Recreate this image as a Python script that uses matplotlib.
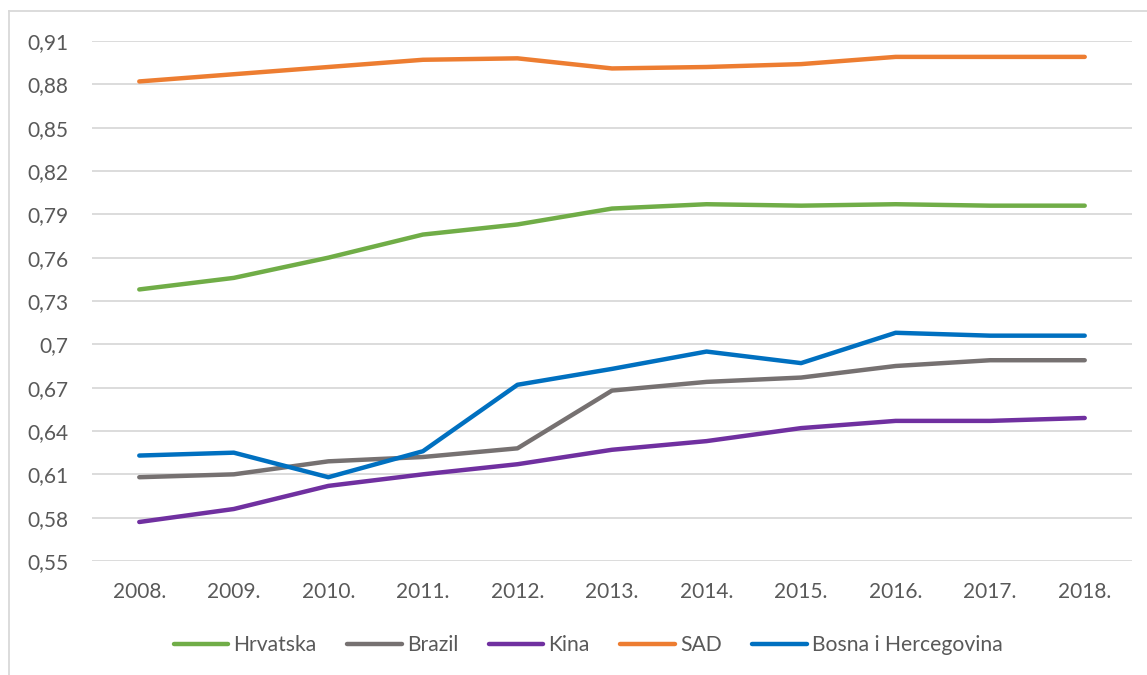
import matplotlib
matplotlib.use("Agg")
import matplotlib.pyplot as plt
from matplotlib.lines import Line2D
from matplotlib.ticker import FixedLocator, FuncFormatter

years = ["2008.", "2009.", "2010.", "2011.", "2012.", "2013.", "2014.", "2015.", "2016.", "2017.", "2018."]
hrvatska = [0.738, 0.746, 0.760, 0.776, 0.783, 0.794, 0.797, 0.796, 0.797, 0.796, 0.796]
brazil = [0.608, 0.610, 0.619, 0.622, 0.628, 0.668, 0.674, 0.677, 0.685, 0.689, 0.689]
kina = [0.577, 0.586, 0.602, 0.610, 0.617, 0.627, 0.633, 0.642, 0.647, 0.647, 0.649]
sad = [0.882, 0.887, 0.892, 0.897, 0.898, 0.891, 0.892, 0.894, 0.899, 0.899, 0.899]
bih = [0.623, 0.625, 0.608, 0.626, 0.672, 0.683, 0.695, 0.687, 0.708, 0.706, 0.706]
yticks = [0.55, 0.58, 0.61, 0.64, 0.67, 0.70, 0.73, 0.76, 0.79, 0.82, 0.85, 0.88, 0.91]

series = [
    ("Hrvatska", hrvatska, "#70AD47"),
    ("Brazil", brazil, "#767171"),
    ("Kina", kina, "#7030A0"),
    ("SAD", sad, "#ED7D31"),
    ("Bosna i Hercegovina", bih, "#0070C0"),
]

plt.rcParams['font.family'] = ['Lato', 'DejaVu Sans']
W, H = 1147, 675
fig = plt.figure(figsize=(W / 100, H / 100), dpi=100)
ax = fig.add_axes([92 / W, 1 - 561 / H, (1132 - 92) / W, (561 - 41) / H])

x = list(range(len(years)))
for name, vals, col in series:
    ax.plot(x, vals, color=col, lw=3.2, label=name, solid_capstyle='round', solid_joinstyle='round')

ax.set_xlim(-0.5, len(years) - 0.5)
ax.set_ylim(0.55, 0.91)
ax.yaxis.set_major_locator(FixedLocator(yticks))

def fmt(v, pos):
    s = f"{v:.2f}".rstrip('0').rstrip('.')
    return s.replace('.', ',')

ax.yaxis.set_major_formatter(FuncFormatter(fmt))
ax.set_xticks(x)
ax.set_xticklabels(years)
ax.grid(axis='y', color='#D9D9D9', lw=1.3)
ax.set_axisbelow(True)
for sp in ax.spines.values():
    sp.set_visible(False)
ax.tick_params(axis='both', length=0, labelsize=15, labelcolor='#595959')
ax.tick_params(axis='y', pad=17)
ax.tick_params(axis='x', pad=15)

leg = fig.legend(loc='center', bbox_to_anchor=(588 / W, 1 - 645 / H), ncol=5, frameon=False,
                 fontsize=15.2, handlelength=2.6, handletextpad=0.23, columnspacing=1.44)
for t in leg.get_texts():
    t.set_color('#595959')

fig.add_artist(Line2D([9 / W, 1.0], [1 - 11 / H, 1 - 11 / H], transform=fig.transFigure, color='#D9D9D9', lw=1.3))
fig.add_artist(Line2D([9 / W, 9 / W], [1 - 11 / H, 0.0], transform=fig.transFigure, color='#D9D9D9', lw=1.3))

fig.savefig("out.png", dpi=100)
